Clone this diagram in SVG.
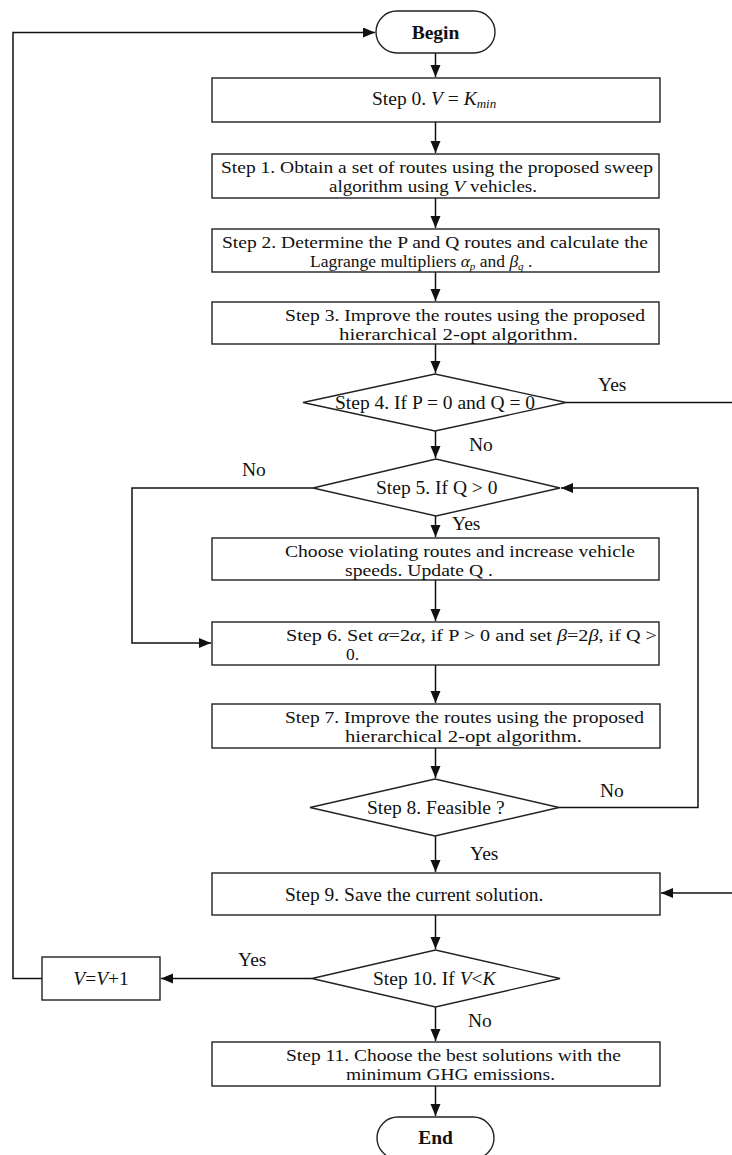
<svg xmlns="http://www.w3.org/2000/svg" width="732" height="1155" viewBox="0 0 732 1155">
<style>
.n{fill:#fff;stroke:#222;stroke-width:1.4}
.t{font-family:"Liberation Serif","Times New Roman",serif;font-size:19.5px;fill:#111}
.m{font-size:17.5px}
.b{font-weight:bold}
.i{font-style:italic}
.c{fill:none;stroke:#111;stroke-width:1.5}
</style>
<defs>
<marker id="ah" markerUnits="userSpaceOnUse" markerWidth="13" markerHeight="11" refX="12" refY="5" orient="auto">
<path d="M0,0 L12,5 L0,10 Z" fill="#111"/>
</marker>
</defs>
<rect width="732" height="1155" fill="#fff"/>
<g id="connectors">
<path class="c" d="M435.5,53 V77" marker-end="url(#ah)"/>
<path class="c" d="M435.5,122 V153" marker-end="url(#ah)"/>
<path class="c" d="M435.5,198 V228" marker-end="url(#ah)"/>
<path class="c" d="M435.5,272 V301" marker-end="url(#ah)"/>
<path class="c" d="M435.5,344 V373" marker-end="url(#ah)"/>
<path class="c" d="M435.5,431 V458" marker-end="url(#ah)"/>
<path class="c" d="M435.5,516 V537" marker-end="url(#ah)"/>
<path class="c" d="M435.5,580 V621" marker-end="url(#ah)"/>
<path class="c" d="M435.5,665 V703" marker-end="url(#ah)"/>
<path class="c" d="M435.5,748 V778" marker-end="url(#ah)"/>
<path class="c" d="M435.5,836 V872" marker-end="url(#ah)"/>
<path class="c" d="M435.5,915 V949" marker-end="url(#ah)"/>
<path class="c" d="M435.5,1007 V1041" marker-end="url(#ah)"/>
<path class="c" d="M435.5,1086 V1116" marker-end="url(#ah)"/>
<path class="c" d="M566,402.5 H732"/>
<path class="c" d="M732,893 H661" marker-end="url(#ah)"/>
<path class="c" d="M313,488 H132 V643 H211" marker-end="url(#ah)"/>
<path class="c" d="M559,807.5 H698 V488 H561" marker-end="url(#ah)"/>
<path class="c" d="M312,978.5 H161" marker-end="url(#ah)"/>
<path class="c" d="M42,978.5 H13 V32.5 H375" marker-end="url(#ah)"/>
</g>
<g id="begin">
<rect class="n" x="376" y="11" width="119" height="42" rx="21"/>
<text class="t b" x="435.5" y="39" text-anchor="middle">Begin</text>
</g>
<g id="step0">
<rect class="n" x="212" y="78" width="448" height="44"/>
<text class="t" x="372" y="105">Step 0. <tspan class="i">V</tspan> = <tspan class="i">K</tspan><tspan class="i" font-size="13" dy="3">min</tspan></text>
</g>
<g id="step1">
<rect class="n" x="212" y="154" width="447" height="44"/>
<text class="t m" x="221" y="172.5" textLength="432" lengthAdjust="spacingAndGlyphs">Step 1. Obtain a set of routes using the proposed sweep</text>
<text class="t m" x="329" y="192" textLength="208" lengthAdjust="spacingAndGlyphs">algorithm using <tspan class="i">V</tspan> vehicles.</text>
</g>
<g id="step2">
<rect class="n" x="212" y="229" width="447" height="43"/>
<text class="t m" x="222" y="247.5" textLength="426" lengthAdjust="spacingAndGlyphs">Step 2. Determine the P and Q routes and calculate the</text>
<text class="t m" x="310" y="267">Lagrange multipliers <tspan class="i">α</tspan><tspan class="i" font-size="11" dy="3">p</tspan><tspan dy="-3"> and </tspan><tspan class="i">β</tspan><tspan class="i" font-size="11" dy="3">q</tspan><tspan dy="-3"> .</tspan></text>
</g>
<g id="step3">
<rect class="n" x="212" y="302" width="447" height="42"/>
<text class="t m" x="285" y="320.5" textLength="360" lengthAdjust="spacingAndGlyphs">Step 3. Improve the routes using the proposed</text>
<text class="t m" x="339" y="340" textLength="239" lengthAdjust="spacingAndGlyphs">hierarchical 2-opt algorithm.</text>
</g>
<g id="step4">
<polygon class="n" points="303,402.5 435,374 566,402.5 435,431"/>
<text class="t" x="335" y="409">Step 4. If P = 0 and Q = 0</text>
</g>
<g id="step5">
<polygon class="n" points="313,488 436,459 560,488 436,516"/>
<text class="t" x="376" y="494">Step 5. If Q &gt; 0</text>
</g>
<g id="choose">
<rect class="n" x="212" y="538" width="447" height="42"/>
<text class="t m" x="285" y="556.5" textLength="350" lengthAdjust="spacingAndGlyphs">Choose violating routes and increase vehicle</text>
<text class="t m" x="345" y="576" textLength="148" lengthAdjust="spacingAndGlyphs">speeds. Update Q .</text>
</g>
<g id="step6">
<rect class="n" x="212" y="622" width="447" height="43"/>
<text class="t m" x="286" y="640.5" textLength="371" lengthAdjust="spacingAndGlyphs">Step 6. Set <tspan class="i">α</tspan>=2<tspan class="i">α</tspan>, if P &gt; 0 and set <tspan class="i">β</tspan>=2<tspan class="i">β</tspan>, if Q &gt;</text>
<text class="t m" x="346" y="660">0.</text>
</g>
<g id="step7">
<rect class="n" x="212" y="704" width="448" height="44"/>
<text class="t m" x="285" y="722.5" textLength="359" lengthAdjust="spacingAndGlyphs">Step 7. Improve the routes using the proposed</text>
<text class="t m" x="345" y="742" textLength="237" lengthAdjust="spacingAndGlyphs">hierarchical 2-opt algorithm.</text>
</g>
<g id="step8">
<polygon class="n" points="310,807.5 435,779 559,807.5 435,836"/>
<text class="t" x="367" y="814">Step 8. Feasible ?</text>
</g>
<g id="step9">
<rect class="n" x="212" y="873" width="448" height="42"/>
<text class="t" x="285" y="901">Step 9. Save the current solution.</text>
</g>
<g id="step10">
<polygon class="n" points="312,978.5 435.5,950 560,978.5 435.5,1007"/>
<text class="t" x="373" y="985">Step 10. If <tspan class="i">V</tspan>&lt;<tspan class="i">K</tspan></text>
</g>
<g id="vinc">
<rect class="n" x="42" y="957" width="118" height="43"/>
<text class="t" x="101" y="985" text-anchor="middle"><tspan class="i">V</tspan>=<tspan class="i">V</tspan>+1</text>
</g>
<g id="step11">
<rect class="n" x="212" y="1042" width="448" height="44"/>
<text class="t m" x="286" y="1060.5" textLength="335" lengthAdjust="spacingAndGlyphs">Step 11. Choose the best solutions with the</text>
<text class="t m" x="346" y="1080" textLength="209" lengthAdjust="spacingAndGlyphs">minimum GHG emissions.</text>
</g>
<g id="end">
<rect class="n" x="377" y="1117" width="117" height="42" rx="21"/>
<text class="t b" x="435.5" y="1144" text-anchor="middle">End</text>
</g>
<g id="labels">
<text class="t" x="598" y="391">Yes</text>
<text class="t" x="469" y="451">No</text>
<text class="t" x="242" y="476">No</text>
<text class="t" x="452" y="530">Yes</text>
<text class="t" x="600" y="797">No</text>
<text class="t" x="470" y="860">Yes</text>
<text class="t" x="238" y="966">Yes</text>
<text class="t" x="468" y="1027">No</text>
</g>
</svg>
